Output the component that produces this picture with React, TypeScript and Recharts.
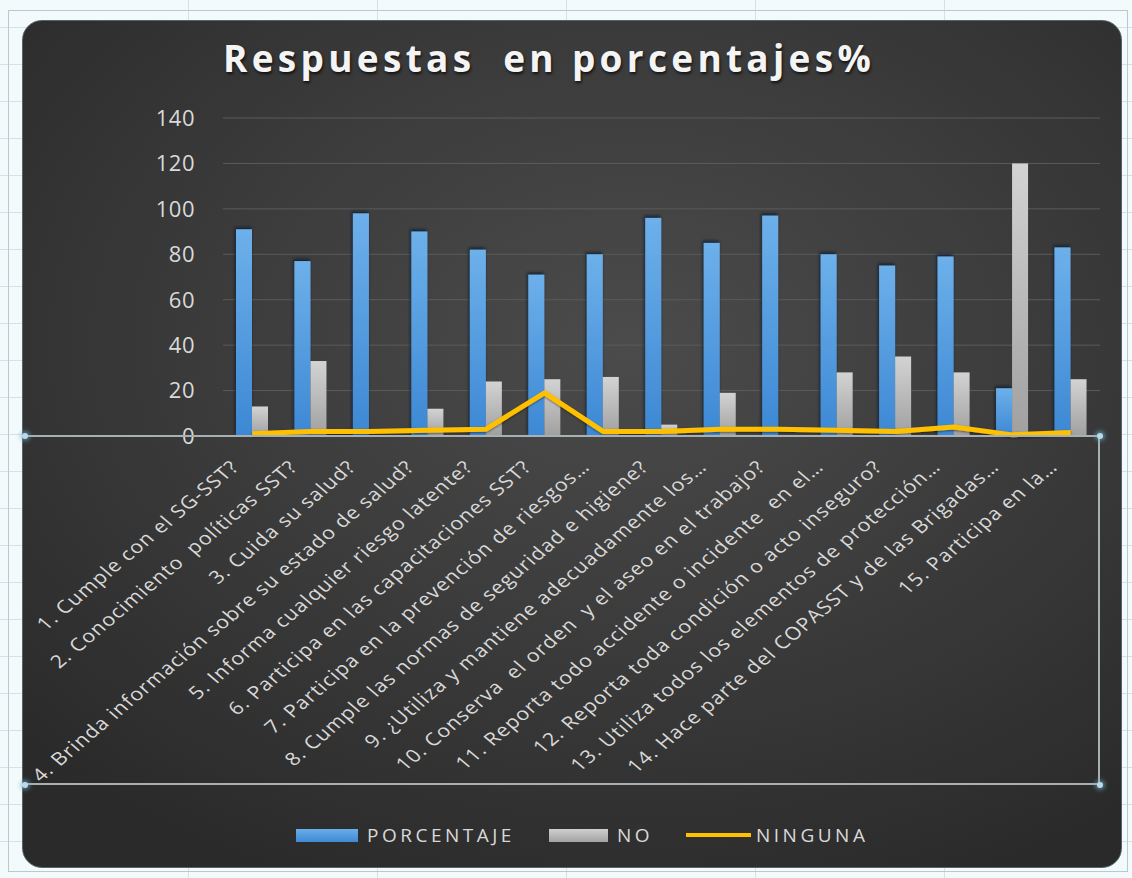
import React from "react";
import { ComposedChart, Bar, Line, XAxis, YAxis, CartesianGrid, Legend } from "recharts";

const categories = [
  "1. Cumple con el SG-SST?",
  "2. Conocimiento  políticas SST?",
  "3. Cuida su salud?",
  "4. Brinda información sobre su estado de salud?",
  "5. Informa cualquier riesgo latente?",
  "6. Participa en las capacitaciones SST?",
  "7. Participa en la prevención de riesgos…",
  "8. Cumple las normas de seguridad e higiene?",
  "9. ¿Utiliza y mantiene adecuadamente los…",
  "10. Conserva  el orden  y el aseo en el trabajo?",
  "11. Reporta todo accidente o incidente  en el…",
  "12. Reporta toda condición o acto inseguro?",
  "13. Utiliza todos los elementos de protección…",
  "14. Hace parte del COPASST y de las Brigadas…",
  "15. Participa en la…",
];
const porcentaje = [91, 77, 98, 90, 82, 71, 80, 96, 85, 97, 80, 75, 79, 21, 83];
const no = [13, 33, 0, 12, 24, 25, 26, 5, 19, 0, 28, 35, 28, 120, 25];
const ninguna = [1, 2, 2, 2.5, 3, 19, 2, 2, 3, 3, 2.5, 2, 4, 0.5, 1.5];
const yTicks = [0, 20, 40, 60, 80, 100, 120, 140];

const data = categories.map((name, i) => ({
  name,
  porcentaje: porcentaje[i],
  no: no[i],
  ninguna: ninguna[i],
}));

const FONT = "'Open Sans', 'Noto Sans', sans-serif";
const TEXT = "#d9d9d9";

const makeBar = (fillId: string, shadow: boolean) => (props: any) => {
  const { x, y, width, height } = props;
  if (!height || height <= 0) return <g />;
  return (
    <rect
      x={x}
      y={y}
      width={width}
      height={height}
      fill={`url(#${fillId})`}
      filter={shadow ? "url(#barShadow)" : undefined}
    />
  );
};

// labels look stretched sideways in the original, so scale the rotated text a bit
const XTick = (props: any) => {
  const { x, y, payload } = props;
  const ax = x - 12;
  const ay = y + 32;
  return (
    <text
      x={0}
      y={0}
      transform={`translate(${ax} ${ay}) scale(1.19 1) rotate(-45)`}
      textAnchor="end"
      fill={TEXT}
      fontSize={18}
      letterSpacing={0.9}
      fontFamily={FONT}
      style={{ whiteSpace: "pre" }}
    >
      {payload.value}
    </text>
  );
};

const LegendContent = () => (
  <div
    style={{
      display: "flex",
      alignItems: "center",
      fontFamily: FONT,
      fontSize: 19,
      letterSpacing: 3.5,
      color: TEXT,
      height: 30,
      paddingLeft: 274,
    }}
  >
    <span style={{ width: 62, height: 13, background: "linear-gradient(#6aaee9,#3f8ad5)", marginRight: 9 }} />
    <span style={{ marginRight: 34 }}>PORCENTAJE</span>
    <span style={{ width: 59, height: 13, background: "linear-gradient(#cfcfcf,#a3a3a3)", marginRight: 9 }} />
    <span style={{ marginRight: 33 }}>NO</span>
    <span style={{ width: 65, height: 4, background: "#FFC000", marginRight: 5 }} />
    <span>NINGUNA</span>
  </div>
);

const Handle = ({ left, top }: { left: number; top: number }) => (
  <div
    style={{
      position: "absolute",
      left: left - 3,
      top: top - 3,
      width: 6,
      height: 6,
      borderRadius: 3,
      background: "#b9dbe8",
      boxShadow: "0 0 4px 2px rgba(120,180,210,0.6)",
    }}
  />
);

export default function App() {
  return (
    <div
      style={{
        position: "absolute",
        left: 0,
        top: 0,
        width: 1132,
        height: 878,
        overflow: "hidden",
        backgroundColor: "#f3fafb",
        backgroundImage:
          "repeating-linear-gradient(90deg, transparent 0 188px, #d5e2e5 188px 189px), repeating-linear-gradient(0deg, transparent 0 36px, #d5e2e5 36px 37px)",
      }}
    >
      <div
        style={{
          position: "absolute",
          left: 8,
          top: 10,
          width: 1120,
          height: 862,
          border: "1px solid #b9c9cd",
          boxSizing: "border-box",
        }}
      />
      <div
        style={{
          position: "absolute",
          left: 22,
          top: 20,
          width: 1100,
          height: 848,
          borderRadius: 20,
          overflow: "hidden",
          border: "1px solid #56636a",
          boxSizing: "border-box",
          background:
            "radial-gradient(ellipse 75% 70% at 55% 38%, #4b4b4b 0%, #3d3d3d 45%, #2a2a2a 100%)",
        }}
      >
        <div
          style={{
            position: "absolute",
            left: 0,
            top: 11,
            width: 1052,
            textAlign: "center",
            fontFamily: FONT,
            fontWeight: 700,
            fontSize: 37,
            letterSpacing: 4.3,
            color: "#f4f4f4",
            textShadow: "1px 2px 3px rgba(0,0,0,0.7)",
            whiteSpace: "pre",
          }}
        >
          {"Respuestas  en porcentajes%"}
        </div>
        <div style={{ position: "absolute", left: -1, top: -1 }}>
          <ComposedChart
            width={1100}
            height={848}
            data={data}
            margin={{ top: 98, right: 22, left: 0, bottom: 53 }}
            barGap={0}
          >
            <defs>
              <linearGradient id="blueFill" x1="0" y1="0" x2="0" y2="1">
                <stop offset="0%" stopColor="#6db0ea" />
                <stop offset="100%" stopColor="#3d88d4" />
              </linearGradient>
              <linearGradient id="grayFill" x1="0" y1="0" x2="0" y2="1">
                <stop offset="0%" stopColor="#d3d3d3" />
                <stop offset="100%" stopColor="#a0a0a0" />
              </linearGradient>
              <filter id="barShadow" x="-50%" y="-10%" width="200%" height="120%">
                <feDropShadow dx="-1" dy="-2" stdDeviation="1.5" floodColor="#0b1b31" floodOpacity="0.9" />
              </filter>
              <filter id="lineShadow" x="-5%" y="-50%" width="110%" height="200%">
                <feDropShadow dx="0" dy="1" stdDeviation="1.2" floodColor="#000" floodOpacity="0.5" />
              </filter>
            </defs>
            <CartesianGrid vertical={false} stroke="#5b5b5b" strokeWidth={1} />
            <XAxis
              dataKey="name"
              interval={0}
              height={349}
              axisLine={false}
              tickLine={false}
              tickSize={0}
              tickMargin={0}
              tick={<XTick />}
            />
            <YAxis
              domain={[0, 140]}
              ticks={yTicks}
              width={201}
              axisLine={false}
              tickLine={false}
              tickMargin={22}
              tick={{ fill: TEXT, fontSize: 22, fontFamily: FONT, letterSpacing: 0.5 }}
            />
            <Bar dataKey="porcentaje" name="PORCENTAJE" barSize={16} shape={makeBar("blueFill", true)} isAnimationActive={false} />
            <Bar dataKey="no" name="NO" barSize={16} shape={makeBar("grayFill", false)} isAnimationActive={false} />
            <Line
              dataKey="ninguna"
              name="NINGUNA"
              type="linear"
              stroke="#FFC000"
              strokeWidth={5}
              strokeLinejoin="round"
              dot={false}
              activeDot={false}
              filter="url(#lineShadow)"
              isAnimationActive={false}
            />
            <Legend
              content={<LegendContent />}
              wrapperStyle={{ position: "absolute", left: 0, top: 800, width: 1100, height: 30 }}
            />
          </ComposedChart>
        </div>
      </div>
      <div
        style={{
          position: "absolute",
          left: 22,
          top: 435,
          width: 1078,
          height: 350,
          borderTop: "2px solid #a7b0b3",
          borderRight: "2px solid #a7b0b3",
          borderBottom: "2px solid #a7b0b3",
          boxSizing: "border-box",
        }}
      />
      <Handle left={25} top={436} />
      <Handle left={1100} top={436} />
      <Handle left={25} top={785} />
      <Handle left={1100} top={785} />
    </div>
  );
}
